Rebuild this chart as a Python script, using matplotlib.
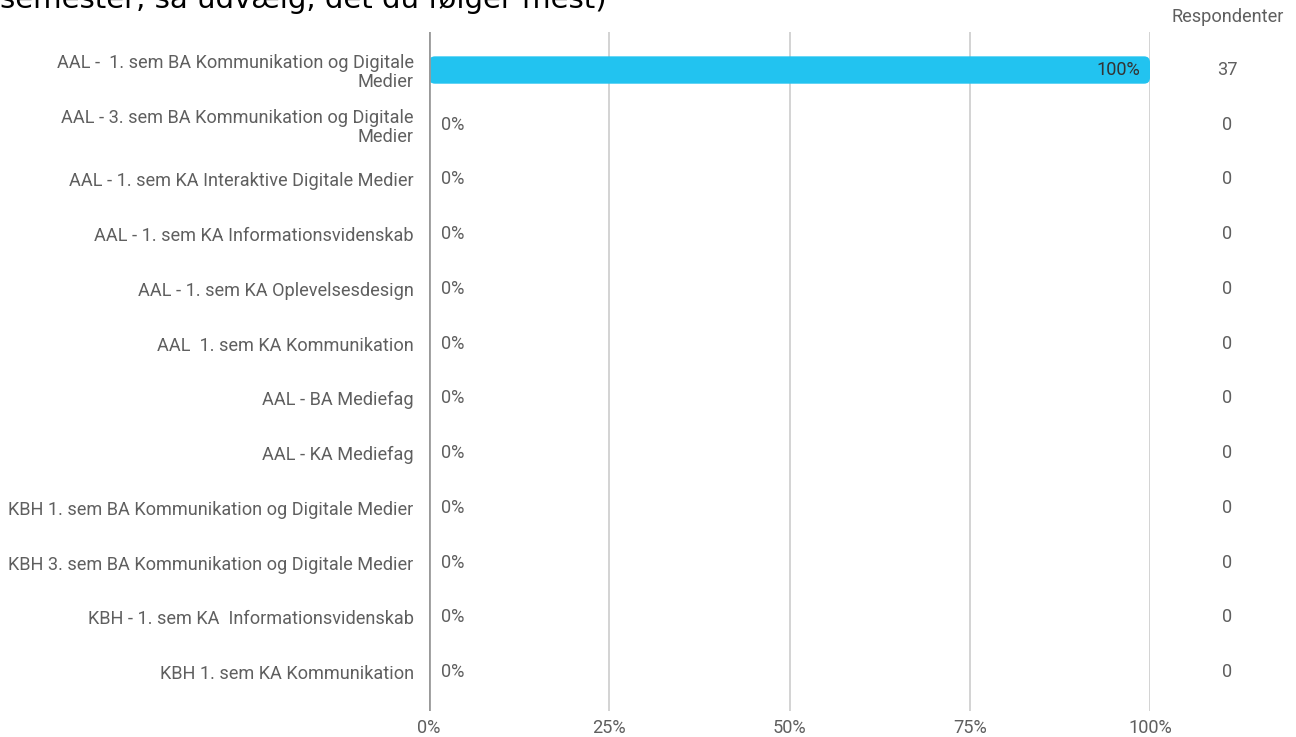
import numpy as np
import matplotlib
matplotlib.use('Agg')
import matplotlib.pyplot as plt
from matplotlib.patches import FancyBboxPatch
from matplotlib.transforms import blended_transform_factory

# Data
categories = [
    'AAL -  1. sem BA Kommunikation og Digitale\nMedier',
    'AAL - 3. sem BA Kommunikation og Digitale\nMedier',
    'AAL - 1. sem KA Interaktive Digitale Medier',
    'AAL - 1. sem KA Informationsvidenskab',
    'AAL - 1. sem KA Oplevelsesdesign',
    'AAL  1. sem KA Kommunikation',
    'AAL - BA Mediefag',
    'AAL - KA Mediefag',
    'KBH 1. sem BA Kommunikation og Digitale Medier',
    'KBH 3. sem BA Kommunikation og Digitale Medier',
    'KBH - 1. sem KA  Informationsvidenskab',
    'KBH 1. sem KA Kommunikation',
]
percent = [100, 0, 0, 0, 0, 0, 0, 0, 0, 0, 0, 0]
respondents = [37, 0, 0, 0, 0, 0, 0, 0, 0, 0, 0, 0]
xticks = [0, 25, 50, 75, 100]

plt.rcParams['font.family'] = ['Roboto', 'DejaVu Sans']
text_col = '#5f5f5f'
fs = 13.1

fig = plt.figure(figsize=(12.96, 7.37), dpi=100)
ax = fig.add_axes([429 / 1296, 1 - 711 / 737, 721 / 1296, (711 - 32) / 737])

n = len(categories)
y = np.arange(n)
ax.set_xlim(0, 100)
ax.set_ylim(n - 1 + 39 / 54.7, -38 / 54.7)

# Bars with rounded ends
h = 0.5
x_per_px = 100 / 721
y_per_px = 1 / 54.7
for yi, v in zip(y, percent):
    if v > 0:
        bar = FancyBboxPatch((0, yi - h / 2), v, h,
                             boxstyle='round,pad=0,rounding_size=%f' % (6 * x_per_px),
                             mutation_aspect=y_per_px / x_per_px,
                             facecolor='#22c3f0', edgecolor='none', zorder=3)
        ax.add_patch(bar)
        ax.text(v - 1.3, yi, '%d%%' % v, ha='right', va='center',
                fontsize=fs, color='#333333', zorder=4)
    else:
        ax.text(1.6, yi, '%d%%' % v, ha='left', va='center',
                fontsize=fs, color=text_col, zorder=4)

# Respondent column
tr = blended_transform_factory(ax.transAxes, ax.transData)
for yi, r in zip(y, respondents):
    ax.text((1227 - 429) / 721, yi, str(r), transform=tr, ha='center',
            va='center', fontsize=fs, color=text_col)
ax.text((1228 - 429) / 721, 1 + 6 / 679, 'Respondenter', transform=ax.transAxes,
        ha='center', va='bottom', fontsize=fs, color=text_col)

# Axes styling
ax.set_yticks(y)
ax.set_yticklabels(categories, fontsize=fs, color=text_col, linespacing=1.08)
ax.set_xticks(xticks)
ax.set_xticklabels(['%d%%' % t for t in xticks], fontsize=fs, color=text_col)
ax.tick_params(length=0)
ax.tick_params(axis='y', pad=11)
ax.tick_params(axis='x', pad=6)
for s in ax.spines.values():
    s.set_visible(False)
ax.grid(axis='x', color='#cccccc', linewidth=1.2, zorder=0)
ax.axvline(0, color='#999999', linewidth=2, zorder=5)

# Title (cropped at top in the original)
fig.text(0.0, 1 - 8 / 737, 'semester, så udvælg, det du følger mest)',
         fontsize=21, family='DejaVu Sans', color='black', va='baseline', ha='left')

fig.savefig('out.png', dpi=100, facecolor='white')
